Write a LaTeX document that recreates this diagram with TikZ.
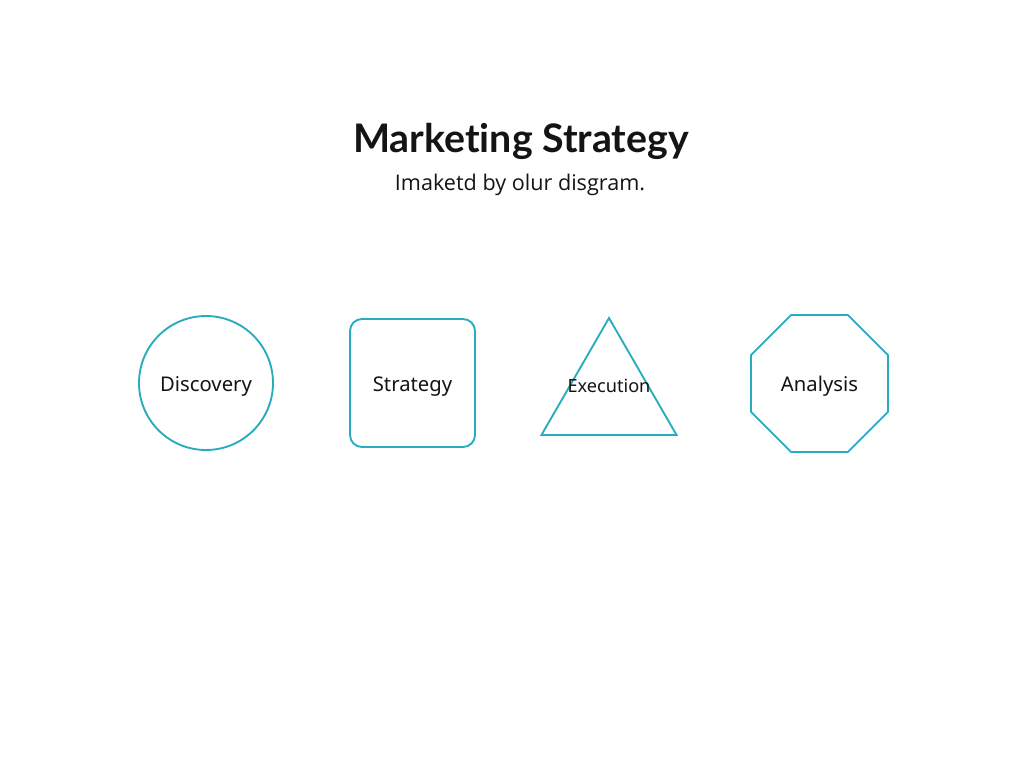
\documentclass[tikz,border=0pt]{standalone}
\usepackage{fontspec}
\setmainfont{Noto Sans}
\newfontfamily\titlefont[Ligatures={NoCommon}]{Lato}
\newfontfamily\subfont{Open Sans}
\usetikzlibrary{shapes.geometric}
\definecolor{shapeteal}{RGB}{40,172,190}
\definecolor{inkblack}{RGB}{20,20,20}
\tikzset{
  shapeline/.style={draw=shapeteal, line width=1.4pt, inner sep=0pt, outer sep=0pt},
  lbl/.style={font=\fontsize{15.2}{17}\selectfont, text=inkblack, inner sep=0pt, anchor=base}
}
\begin{document}
\begin{tikzpicture}[x=0.75pt,y=-0.75pt]
\useasboundingbox[fill=white] (0,0) rectangle (1024,768);
\node[font=\titlefont\bfseries\fontsize{29.5}{32}\selectfont, text=inkblack, anchor=base] (title) at (521,152) {Marketing Strategy};
\node[font=\subfont\fontsize{16.2}{19}\selectfont, text=inkblack, anchor=base] (sub) at (520,190) {Imaketd by olur disgram.};
\node[shapeline, circle, minimum size=100.5pt] (disc) at (206,383) {};
\node[lbl] at ([yshift=-6pt]disc.center) {Discovery};
\node[shapeline, rectangle, rounded corners=9pt, minimum width=93.75pt, minimum height=96pt] (strat) at (412.5,383) {};
\node[lbl] at ([yshift=-6pt]strat.center) {Strategy};
\node[shapeline, regular polygon, regular polygon sides=3, minimum size=117pt] (exec) at (609,396) {};
\node[lbl, font=\fontsize{13.6}{16}\selectfont] (execl) at (609,392) {Execution};
\node[shapeline, regular polygon, regular polygon sides=8, minimum size=111.2pt] (anal) at (819.5,383.5) {};
\node[lbl] at ([yshift=-6pt]anal.center) {Analysis};
\end{tikzpicture}
\end{document}
